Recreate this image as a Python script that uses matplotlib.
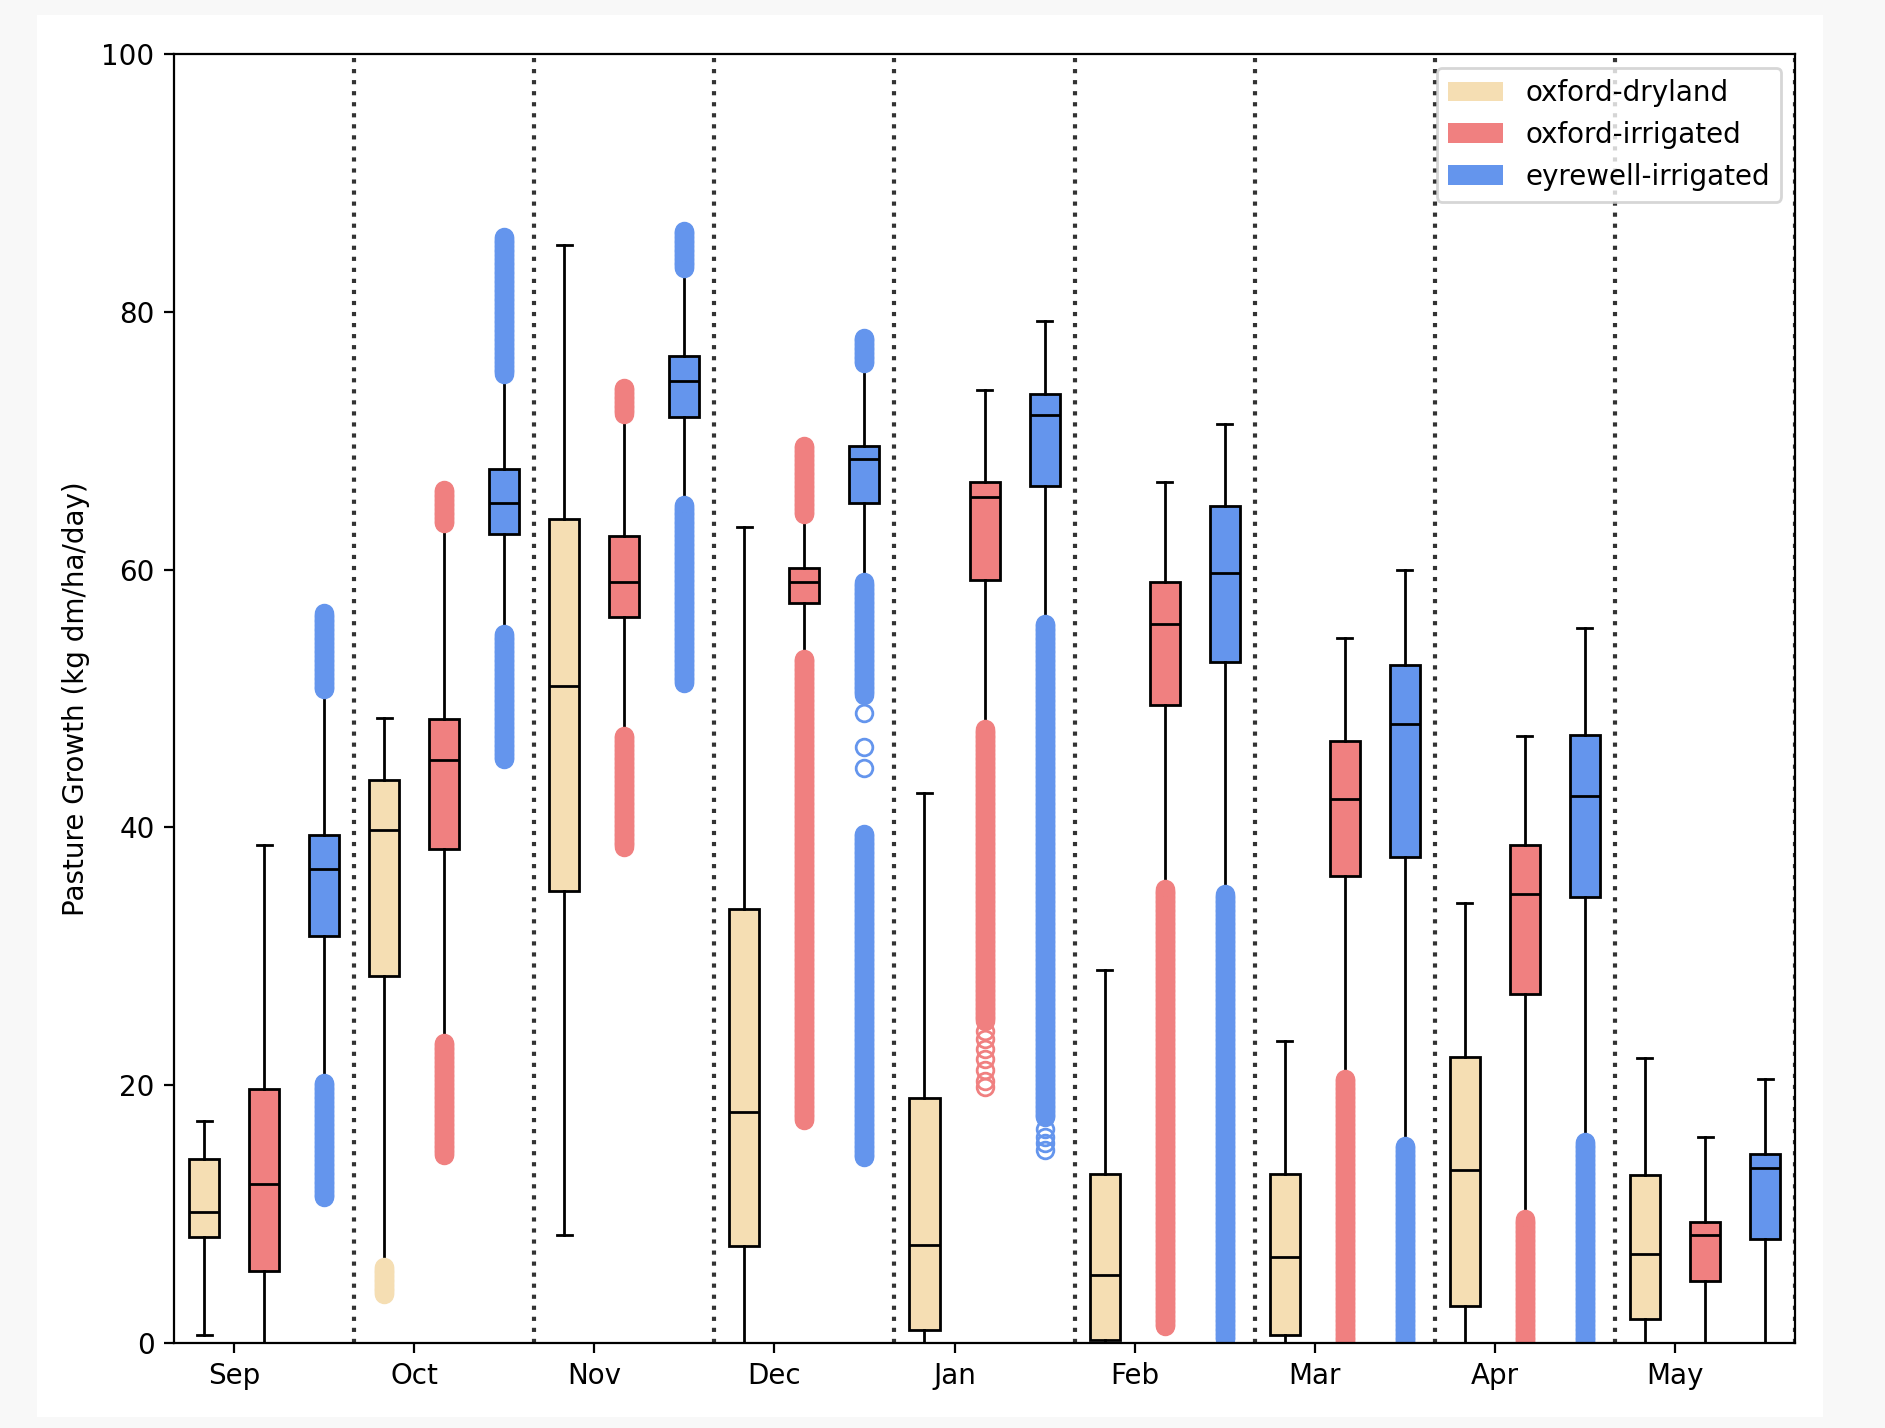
import numpy as np
import matplotlib
matplotlib.use("Agg")
import matplotlib.pyplot as plt
from matplotlib.patches import Patch, Rectangle

months = ["Sep", "Oct", "Nov", "Dec", "Jan", "Feb", "Mar", "Apr", "May"]
series = ["oxford-dryland", "oxford-irrigated", "eyrewell-irrigated"]
colors = ["wheat", "lightcoral", "cornflowerblue"]

# box stats per month: (whislo, q1, med, q3, whishi)
dryland = [
    (0.65, 8.2, 10.2, 14.3, 17.2),
    (5.3, 28.5, 39.8, 43.7, 48.5),
    (8.4, 35.1, 51.0, 63.9, 85.2),
    (0.0, 7.5, 17.9, 33.7, 63.3),
    (0.0, 1.0, 7.6, 19.0, 42.7),
    (0.0, 0.2, 5.3, 13.1, 28.9),
    (0.0, 0.65, 6.7, 13.1, 23.4),
    (0.0, 2.9, 13.4, 22.2, 34.1),
    (0.0, 1.9, 6.9, 13.0, 22.1),
]
irrigated = [
    (0.0, 5.6, 12.3, 19.7, 38.6),
    (22.7, 38.3, 45.2, 48.4, 64.2),
    (46.5, 56.3, 59.0, 62.6, 72.7),
    (52.5, 57.4, 59.0, 60.1, 64.9),
    (47.0, 59.2, 65.6, 66.8, 73.9),
    (34.6, 49.5, 55.8, 59.0, 66.8),
    (19.9, 36.2, 42.2, 46.7, 54.7),
    (9.0, 27.1, 34.8, 38.6, 47.1),
    (0.0, 4.8, 8.4, 9.4, 16.0),
]
eyrewell = [
    (19.6, 31.6, 36.8, 39.4, 51.3),
    (54.4, 62.8, 65.2, 67.8, 75.8),
    (64.4, 71.8, 74.6, 76.6, 84.0),
    (58.4, 65.2, 68.6, 69.6, 76.6),
    (55.2, 66.5, 72.0, 73.6, 79.3),
    (34.2, 52.8, 59.7, 64.9, 71.3),
    (14.7, 37.7, 48.0, 52.6, 60.0),
    (15.0, 34.6, 42.4, 47.2, 55.5),
    (0.0, 8.1, 13.6, 14.7, 20.5),
]

# outliers: dense runs (lo, hi), plus single points
dryland_runs = [[], [(3.8, 5.9)], [], [], [], [], [], [], []]
dryland_pts = [[], [], [], [], [], [], [], [], []]
irrigated_runs = [
    [],
    [(14.6, 23.3), (63.6, 66.2)],
    [(38.5, 47.1), (72.1, 74.1)],
    [(17.3, 53.1), (64.3, 69.6)],
    [(25.0, 47.6)],
    [(1.3, 35.2)],
    [(0.0, 20.5)],
    [(0.0, 9.6)],
    [],
]
irrigated_pts = [[], [], [], [], [24.2, 23.6, 22.8, 22.0, 21.2, 20.3, 19.9], [], [], [], []]
eyrewell_runs = [
    [(11.3, 20.2), (50.7, 56.6)],
    [(45.3, 55.0), (75.2, 85.8)],
    [(51.2, 65.0), (83.4, 86.3)],
    [(14.4, 39.5), (50.3, 59.0), (76.0, 78.0)],
    [(17.5, 55.8)],
    [(0.3, 34.8)],
    [(0.0, 15.3)],
    [(0.0, 15.6)],
    [],
]
eyrewell_pts = [[], [], [], [48.9, 46.2, 44.6], [16.6, 16.0, 15.5, 15.0], [], [], [], []]


def make_stats(boxes, runs, pts):
    stats = []
    for b, r, p in zip(boxes, runs, pts):
        fl = list(p)
        for lo, hi in r:
            # the runs are solid columns of overlapping circles
            fl += list(np.arange(lo, hi + 0.05, 0.1))
        stats.append(dict(whislo=b[0], q1=b[1], med=b[2], q3=b[3], whishi=b[4],
                          fliers=np.array(fl)))
    return stats


fig = plt.figure(figsize=(18.85 / 2, 14.28 / 2), dpi=200, facecolor="#f8f8f8")
fig.patches.append(Rectangle((0.0196, 0.0077), 0.9475, 0.9818, transform=fig.transFigure,
                             facecolor="white", edgecolor="none", zorder=-10))
ax = fig.add_axes([0.0923, 0.0595, 0.8600, 0.9027])

all_data = [(dryland, dryland_runs, dryland_pts),
            (irrigated, irrigated_runs, irrigated_pts),
            (eyrewell, eyrewell_runs, eyrewell_pts)]

n = len(months)
for k, (boxes, runs, pts) in enumerate(all_data):
    pos = [3 * i + k for i in range(n)]
    ax.bxp(make_stats(boxes, runs, pts), positions=pos, widths=0.5, patch_artist=True,
           boxprops=dict(facecolor=colors[k], edgecolor="k"),
           medianprops=dict(color="k"),
           flierprops=dict(marker="o", markerfacecolor="none",
                           markeredgecolor=colors[k]))

for i in range(n):
    ax.axvline(3 * i + 2.5, color="#333333", linestyle=":", linewidth=1.5)

ax.set_xlim(-0.5, 3 * n - 0.5)
ax.set_ylim(0, 100)
ax.set_xticks([3 * i + 0.5 for i in range(n)])
ax.set_xticklabels(months)
ax.set_ylabel("Pasture Growth (kg dm/ha/day)")

handles = [Patch(facecolor=c, label=s) for s, c in zip(series, colors)]
ax.legend(handles=handles, loc="upper right")

fig.savefig("out.png", dpi=200, facecolor=fig.get_facecolor())
